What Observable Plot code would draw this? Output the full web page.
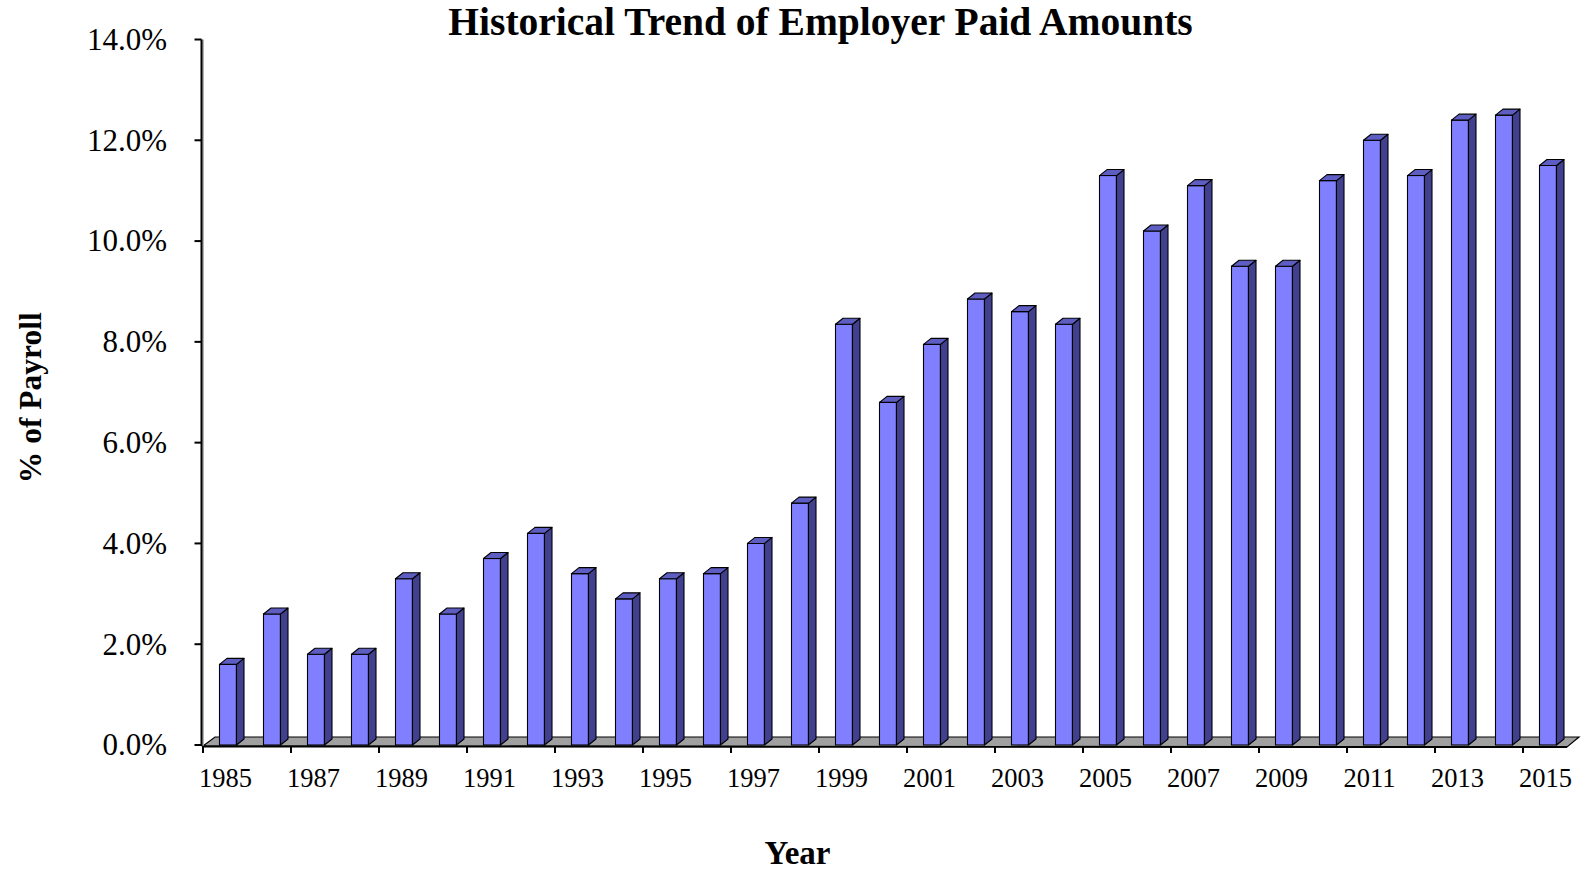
<!DOCTYPE html>
<html>
<head>
<meta charset="utf-8">
<script src="https://cdn.jsdelivr.net/npm/d3@7"></script>
<script src="https://cdn.jsdelivr.net/npm/@observablehq/plot@0.6"></script>
<style>
  html, body { margin: 0; padding: 0; background: #ffffff; }
  #chart { width: 1583px; height: 869px; }
  #chart svg { font-family: "Liberation Serif", "Times New Roman", serif; }
</style>
</head>
<body>
<div id="chart"></div>
<script>
// ---- Data ----
const years = [1985, 1986, 1987, 1988, 1989, 1990, 1991, 1992, 1993, 1994,
               1995, 1996, 1997, 1998, 1999, 2000, 2001, 2002, 2003, 2004,
               2005, 2006, 2007, 2008, 2009, 2010, 2011, 2012, 2013, 2014, 2015];
const values = [1.6, 2.6, 1.8, 1.8, 3.3, 2.6, 3.7, 4.2, 3.4, 2.9,
                3.3, 3.4, 4.0, 4.8, 8.35, 6.8, 7.95, 8.85, 8.6, 8.35,
                11.3, 10.2, 11.1, 9.5, 9.5, 11.2, 12.0, 11.3, 12.4, 12.5, 11.5];
const yTicks = [0, 2, 4, 6, 8, 10, 12, 14];
const xTickLabels = [1985, 1987, 1989, 1991, 1993, 1995, 1997, 1999, 2001,
                     2003, 2005, 2007, 2009, 2011, 2013, 2015];
const titleText = "Historical Trend of Employer Paid Amounts";
const yTitle = "% of Payroll";
const xTitle = "Year";

const data = years.map((year, i) => ({year, value: values[i]}));

// ---- Styling / geometry constants ----
const FRONT_FILL = "#8080ff";
const SIDE_FILL = "#40408f";
const TOP_FILL = "#5d5dc2";
const FRONT_OFF = 16.5;   // front face left inset within its band
const FRONT_W = 17;       // front face width
const DEPTH_X = 7.5;      // 3D depth offset (x)
const DEPTH_Y = 6;        // 3D depth offset (y)

const svgns = "http://www.w3.org/2000/svg";
function el(tag, attrs) {
  const e = document.createElementNS(svgns, tag);
  for (const k in attrs) e.setAttribute(k, attrs[k]);
  return e;
}
function poly(points, fill) {
  return el("polygon", {
    points: points.map(p => p.join(",")).join(" "),
    fill, stroke: "#000", "stroke-width": 1.1, "stroke-linejoin": "round"
  });
}
function bw(x, dims) {
  if (x.bandwidth) return x.bandwidth();
  return (dims.width - dims.marginLeft - dims.marginRight) / years.length;
}

// Floor of the 3D plot area + axis lines & ticks
function floorAndAxes(index, scales, values, dims) {
  const {x, y} = scales;
  const g = el("g", {});
  const b = bw(x, dims);
  const xl = x(years[0]);
  const xr = x(years[years.length - 1]) + b;
  const y0 = y(0);
  // floor
  g.appendChild(el("polygon", {
    points: [[xl, y0 + 1], [xl + 12, y0 - 8], [xr + 12, y0 - 8], [xr, y0 + 2]].map(p => p.join(",")).join(" "),
    fill: "#a0a0a0", stroke: "#000", "stroke-width": 1.2
  }));
  // x axis front line
  g.appendChild(el("line", {x1: xl, y1: y0 + 1.5, x2: xr, y2: y0 + 2, stroke: "#000", "stroke-width": 2}));
  // x ticks at every other band boundary
  for (let i = 0; i < years.length; i += 2) {
    const xx = x(years[i]);
    g.appendChild(el("line", {x1: xx, y1: y0 + 1, x2: xx, y2: y0 + 8, stroke: "#000", "stroke-width": 2}));
  }
  // y axis line
  const ax = xl - 1.5;
  g.appendChild(el("line", {x1: ax + 1.5, y1: y(14), x2: ax + 1.5, y2: y0 + 1, stroke: "#9a9a9a", "stroke-width": 1.5}));
  g.appendChild(el("line", {x1: ax, y1: y(14), x2: ax, y2: y0 + 1, stroke: "#000", "stroke-width": 2}));
  for (const t of yTicks) {
    g.appendChild(el("line", {x1: ax - 7, y1: y(t), x2: ax, y2: y(t), stroke: "#000", "stroke-width": 2}));
  }
  return g;
}

// Side and top faces of each bar (front face drawn by Plot.barY)
function barFaces(index, scales, values, dims) {
  const {x, y} = scales;
  const g = el("g", {});
  const y0 = y(0);
  for (const d of data) {
    const x0 = x(d.year) + FRONT_OFF;
    const x1 = x0 + FRONT_W;
    const yt = y(d.value);
    g.appendChild(poly([[x1, yt], [x1 + DEPTH_X, yt - DEPTH_Y], [x1 + DEPTH_X, y0 - DEPTH_Y], [x1, y0]], SIDE_FILL));
    g.appendChild(poly([[x0, yt], [x0 + DEPTH_X, yt - DEPTH_Y], [x1 + DEPTH_X, yt - DEPTH_Y], [x1, yt]], TOP_FILL));
  }
  return g;
}

const marginLeft = 201.5, marginRight = 14.5, marginTop = 39.5, marginBottom = 124;

const chart = Plot.plot({
  width: 1583,
  height: 869,
  marginLeft, marginRight, marginTop, marginBottom,
  style: {background: "#ffffff", fontFamily: "Liberation Serif, Times New Roman, serif", overflow: "visible"},
  x: {type: "band", domain: years, padding: 0, axis: null},
  y: {domain: [0, 14], axis: null},
  marks: [
    floorAndAxes,
    Plot.barY(data, {
      x: "year", y: "value",
      insetLeft: FRONT_OFF,
      insetRight: 44.1 - FRONT_OFF - FRONT_W,
      fill: FRONT_FILL, stroke: "#000", strokeWidth: 1.1
    }),
    barFaces,
    // y tick labels
    Plot.text(yTicks, {
      y: d => d, text: d => d.toFixed(1) + "%",
      frameAnchor: "left", dx: -35, textAnchor: "end", lineAnchor: "middle",
      fontSize: 31, fill: "#000"
    }),
    // x tick labels
    Plot.text(xTickLabels, {
      x: d => d, text: d => String(d),
      frameAnchor: "bottom", dy: 33, lineAnchor: "middle", textAnchor: "middle",
      fontSize: 26.5, fill: "#000"
    }),
    // title
    Plot.text([titleText], {
      text: d => d, frameAnchor: "top", dx: -65, dy: -17.5,
      lineAnchor: "middle", textAnchor: "middle",
      fontSize: 39.5, fontWeight: "bold", fill: "#000"
    }),
    // y title
    Plot.text([yTitle], {
      text: d => d, frameAnchor: "left", dx: -171.5, dy: 5, rotate: -90,
      lineAnchor: "middle", textAnchor: "middle",
      fontSize: 31.5, fontWeight: "bold", fill: "#000"
    }),
    // x title
    Plot.text([xTitle], {
      text: d => d, frameAnchor: "bottom", dx: -88, dy: 108,
      lineAnchor: "middle", textAnchor: "middle",
      fontSize: 33, fontWeight: "bold", fill: "#000"
    })
  ]
});

document.getElementById("chart").appendChild(chart);
</script>
</body>
</html>
